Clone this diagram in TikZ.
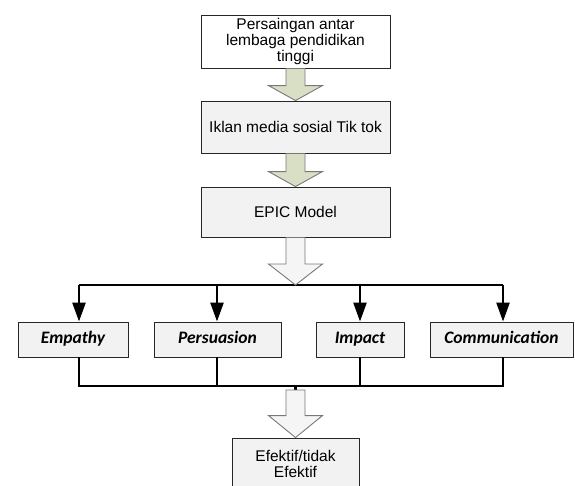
\documentclass[tikz,border=0pt]{standalone}
\usepackage{fontspec}
\setmainfont{Liberation Sans}
\newfontfamily\calib{Carlito}
\usetikzlibrary{arrows.meta,calc}
\definecolor{boxgray}{RGB}{242,242,242}
\definecolor{arrgreen}{RGB}{216,223,196}
\definecolor{arredge}{RGB}{120,120,120}
\newcommand\blockarrow[4]{%
  \draw[#4] ($(#1)+(-9.5,0)$) -- ($(#1)+(9.5,0)$) -- ($(#2)+(9.5,-#3)$) -- ($(#2)+(27,-#3)$) -- (#2) -- ($(#2)+(-27,-#3)$) -- ($(#2)+(-9.5,-#3)$) -- cycle;}
\begin{document}
\begin{tikzpicture}[x=1pt,y=-1pt,
  box/.style={draw=black!85,line width=0.9pt,fill=boxgray,inner sep=0pt,align=center,
    font=\fontsize{15.5}{16}\selectfont},
  kbox/.style={draw=black!85,line width=0.9pt,fill=boxgray,inner sep=0pt,align=center,
    minimum height=35pt,text height=12pt,text depth=3.5pt,
    font=\calib\bfseries\itshape\fontsize{17.5}{18}\selectfont},
  greenarr/.style={fill=arrgreen,draw=arredge,line width=0.9pt,line join=miter},
  whitearr/.style={fill=white!96!black,draw=arredge,line width=0.9pt,line join=miter},
  thickln/.style={line width=2.4pt},
  droparr/.style={line width=2.4pt,-{Triangle[width=13pt,length=19pt]}}]
\useasboundingbox (0,0) rectangle (575,485);
\node[box,fill=white,minimum width=189pt,minimum height=53pt] (b1) at (295.5,41.5)
  {Persaingan antar\\lembaga pendidikan\\tinggi};
\node[box,minimum width=189pt,minimum height=52pt] (b2) at (295.5,127) {Iklan media sosial Tik tok};
\node[box,minimum width=189pt,minimum height=50pt] (b3) at (295.5,212) {EPIC Model};
\node[kbox,minimum width=110pt] (e) at (73,339.5) {Empathy};
\node[kbox,minimum width=127pt] (p) at (217.5,339.5) {Persuasion};
\node[kbox,minimum width=88pt] (i) at (360,339.5) {Impact};
\node[kbox,minimum width=143pt] (c) at (501.5,339.5) {Communication};
\node[box,minimum width=127pt,minimum height=52pt] (f) at (295.5,464) {Efektif/tidak\\Efektif};
% bus coordinates
\coordinate (bus) at (295.5,285);
\coordinate (t1) at (79,285);
\coordinate (t2) at (217,285);
\coordinate (t3) at (360,285);
\coordinate (t4) at (503,285);
\coordinate (u1) at (79,386);
\coordinate (u4) at (503,386);
\coordinate (stem) at (295.5,386);
\coordinate (stemend) at (295.5,390);
% block arrows
\blockarrow{b1.south}{b2.north}{15}{greenarr}
\blockarrow{b2.south}{b3.north}{15}{greenarr}
% top bus
\draw[thickln] (t1) -- (t4);
\draw[droparr] (t1) -- (t1 |- e.north);
\draw[droparr] (t2) -- (t2 |- p.north);
\draw[droparr] (t3) -- (t3 |- i.north);
\draw[droparr] (t4) -- (t4 |- c.north);
\blockarrow{b3.south}{bus}{21}{whitearr}
% bottom bus
\draw[thickln] (u1 |- e.south) -- (u1) -- (u4) -- (u4 |- c.south);
\draw[thickln] (t2 |- p.south) -- (t2 |- u1);
\draw[thickln] (t3 |- i.south) -- (t3 |- u1);
\draw[line width=2.4pt] (stem) -- (stemend);
\blockarrow{stemend}{f.north}{22}{whitearr}
\end{tikzpicture}
\end{document}
